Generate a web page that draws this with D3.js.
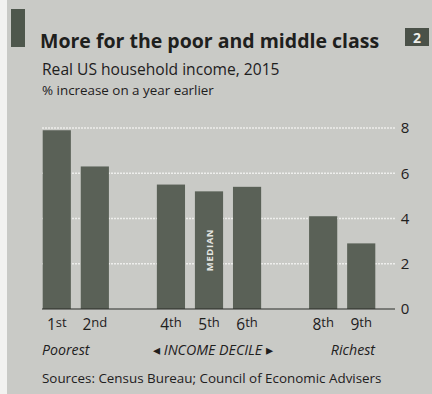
<!DOCTYPE html>
<html>
<head>
<meta charset="utf-8">
<script src="https://cdn.jsdelivr.net/npm/d3@7"></script>
<style>
  html, body { margin: 0; padding: 0; background: #f2f2f0; }
  svg { display: block; }
  text { font-family: "Open Sans", "DejaVu Sans", sans-serif; }
</style>
</head>
<body>
<svg id="chart" width="432" height="394"></svg>
<script>
// Real US household income growth by decile, 2015 (% on a year earlier)
const deciles = ["1st", "2nd", "3rd", "4th", "5th", "6th", "7th", "8th", "9th"];
const growth  = [7.9, 6.3, null, 5.5, 5.2, 5.4, null, 4.1, 2.9];
const yTicks  = [0, 2, 4, 6, 8];

const title    = "More for the poor and middle class";
const subtitle = "Real US household income, 2015";
const unitNote = "% increase on a year earlier";
const source   = "Sources: Census Bureau; Council of Economic Advisers";

const W = 432, H = 394;
const bg = "#c9cac6", barColor = "#5a6157", ink = "#1e201d";

const svg = d3.select("#chart");

// panel
svg.append("rect").attr("x", 7).attr("y", 0).attr("width", W - 7).attr("height", H).attr("fill", bg);

// header tag and chart number
svg.append("rect").attr("x", 11).attr("y", 9).attr("width", 14).attr("height", 38).attr("fill", "#4e574c");
svg.append("rect").attr("x", 405).attr("y", 28).attr("width", 24).attr("height", 18).attr("fill", "#4a5148");
svg.append("text").attr("x", 417).attr("y", 42.5).attr("text-anchor", "middle")
  .attr("font-size", 14).attr("font-weight", 700).attr("fill", "#eeeeea").text("2");

svg.append("text").attr("x", 40).attr("y", 48).attr("font-size", 19.5).attr("font-weight", 700)
  .attr("fill", ink).text(title);
svg.append("text").attr("x", 42).attr("y", 75).attr("font-size", 15.6).attr("fill", ink).text(subtitle);
svg.append("text").attr("x", 42).attr("y", 95).attr("font-size", 13.4).attr("fill", ink).text(unitNote);

// scales
const x = d3.scaleBand().domain(deciles).range([42.7, 375.3]).paddingInner(0.26).paddingOuter(0);
const y = d3.scaleLinear().domain([0, 8]).range([309, 128]);
const plotLeft = 42, plotRight = 395;

// gridlines
svg.append("g").selectAll("line").data(yTicks.filter(d => d > 0)).join("line")
  .attr("x1", plotLeft).attr("x2", plotRight)
  .attr("y1", d => y(d)).attr("y2", d => y(d))
  .attr("stroke", "#eeeeec").attr("stroke-width", 1.4).attr("stroke-dasharray", "2,1");

// right-hand value axis
const yAxis = d3.axisRight(y).tickValues(yTicks).tickSize(0).tickPadding(0).tickFormat(d3.format("d"));
const gy = svg.append("g").attr("transform", `translate(${plotRight + 10},0)`).call(yAxis);
gy.select(".domain").remove();
gy.selectAll("text").attr("font-size", 15).attr("fill", ink).attr("text-anchor", "middle")
  .attr("font-family", "'Open Sans', sans-serif");

// bars
const rows = deciles.map((d, i) => ({ decile: d, value: growth[i] })).filter(r => r.value != null);
svg.append("g").selectAll("rect").data(rows).join("rect")
  .attr("x", d => x(d.decile)).attr("width", x.bandwidth())
  .attr("y", d => y(d.value)).attr("height", d => y(0) - y(d.value))
  .attr("fill", barColor);

// median marker inside the 5th-decile bar
svg.append("text")
  .attr("transform", `translate(${x("5th") + x.bandwidth() / 2 + 3.5},250) rotate(-90)`)
  .attr("text-anchor", "middle").attr("font-size", 9.5).attr("font-weight", 700)
  .attr("letter-spacing", 0.6).attr("fill", "#e4e6e2").text("MEDIAN");

// zero line
svg.append("line").attr("x1", plotLeft).attr("x2", plotRight).attr("y1", y(0)).attr("y2", y(0))
  .attr("stroke", "#2a2c29").attr("stroke-width", 1.2);

// decile labels with raised ordinal suffix
const xl = svg.append("g").selectAll("text").data(rows).join("text")
  .attr("x", d => x(d.decile) + x.bandwidth() / 2).attr("y", 330)
  .attr("text-anchor", "middle").attr("font-size", 15.5).attr("fill", ink);
xl.append("tspan").text(d => d.decile.slice(0, 1));
xl.append("tspan").attr("dy", -3.5).attr("font-size", 13).text(d => d.decile.slice(1));

// direction notes
const notes = svg.append("g").attr("font-size", 14.2).attr("font-style", "italic").attr("fill", ink);
notes.append("text").attr("x", 42).attr("y", 355).text("Poorest");
notes.append("text").attr("x", 375).attr("y", 355).attr("text-anchor", "end").text("Richest");
notes.append("text").attr("x", 213).attr("y", 355).attr("text-anchor", "middle").text("◂ INCOME DECILE ▸");

svg.append("text").attr("x", 42).attr("y", 383).attr("font-size", 13.4).attr("fill", ink).text(source);
</script>
</body>
</html>
